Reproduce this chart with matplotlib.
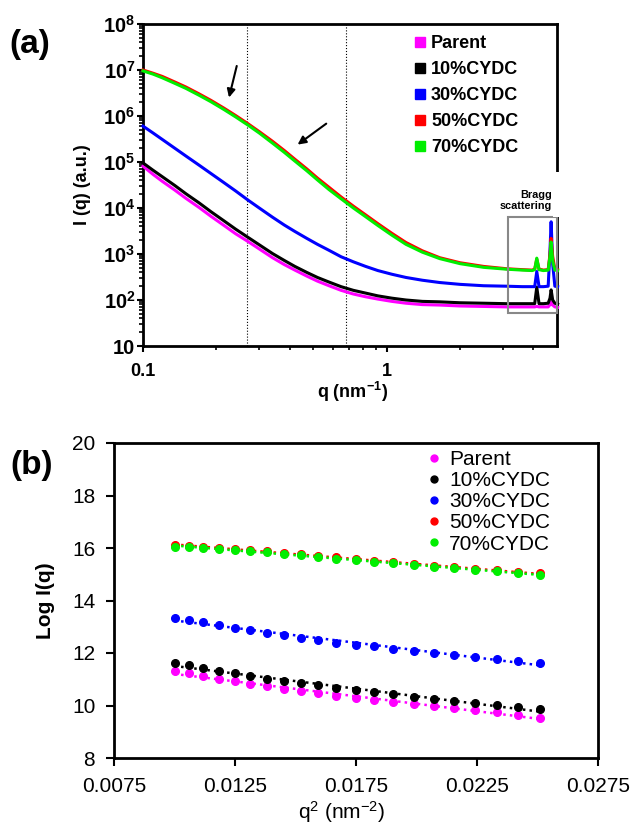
import numpy as np
import matplotlib
matplotlib.use('Agg')
import matplotlib.pyplot as plt
from matplotlib.lines import Line2D
from matplotlib.patches import Rectangle
from matplotlib.ticker import FixedLocator, LogLocator, NullFormatter, FuncFormatter

plt.rcParams['font.family'] = ['Liberation Sans', 'DejaVu Sans']
plt.rcParams['mathtext.fontset'] = 'custom'
plt.rcParams['mathtext.rm'] = 'Liberation Sans'
plt.rcParams['mathtext.bf'] = 'Liberation Sans:bold'
plt.rcParams['mathtext.it'] = 'Liberation Sans:italic'

# ---------------- panel (a) data: SAXS curves (log10 of I) ----------------
labels = ['Parent', '10%CYDC', '30%CYDC', '50%CYDC', '70%CYDC']
colors = ['#FF00FF', '#000000', '#0000FF', '#FF0000', '#00EE00']

q = [0.100, 0.110, 0.120, 0.135, 0.150, 0.170, 0.190, 0.215, 0.240, 0.270,
     0.300, 0.340, 0.380, 0.420, 0.470, 0.520, 0.580, 0.650, 0.730, 0.820,
     0.920, 1.05, 1.20, 1.40, 1.65, 2.00, 2.50, 3.10, 3.60, 3.95,
     4.05, 4.13, 4.22, 4.40, 4.60, 4.68, 4.73, 4.80, 4.90, 5.03]

logI_parent = [4.91, 4.73, 4.58, 4.39, 4.21, 4.01, 3.82, 3.62, 3.44, 3.27,
               3.11, 2.92, 2.77, 2.65, 2.52, 2.41, 2.31, 2.21, 2.13, 2.07,
               2.02, 1.97, 1.93, 1.90, 1.89, 1.87, 1.86, 1.85, 1.85, 1.85,
               1.85, 1.86, 1.85, 1.85, 1.85, 1.90, 1.96, 1.89, 1.85, 1.84]
logI_10 = [4.98, 4.82, 4.68, 4.49, 4.31, 4.11, 3.92, 3.72, 3.54, 3.36,
           3.20, 3.01, 2.86, 2.73, 2.60, 2.49, 2.39, 2.29, 2.21, 2.15,
           2.09, 2.04, 2.00, 1.97, 1.96, 1.94, 1.93, 1.92, 1.92, 1.92,
           1.92, 2.28, 1.92, 1.92, 1.93, 2.04, 2.22, 2.00, 1.93, 1.91]
logI_30 = [5.78, 5.63, 5.49, 5.30, 5.13, 4.93, 4.75, 4.55, 4.37, 4.17,
           4.00, 3.80, 3.63, 3.49, 3.34, 3.21, 3.08, 2.94, 2.83, 2.73,
           2.64, 2.56, 2.49, 2.43, 2.38, 2.34, 2.31, 2.30, 2.29, 2.29,
           2.29, 2.62, 2.29, 2.29, 2.30, 3.08, 3.70, 2.78, 2.30, 2.29]
logI_50 = [7.00, 6.93, 6.86, 6.74, 6.63, 6.48, 6.34, 6.17, 6.01, 5.83,
           5.66, 5.45, 5.25, 5.06, 4.85, 4.65, 4.45, 4.24, 4.04, 3.85,
           3.66, 3.45, 3.25, 3.07, 2.92, 2.81, 2.73, 2.68, 2.66, 2.65,
           2.67, 2.89, 2.67, 2.65, 2.66, 3.00, 3.34, 2.95, 2.67, 2.66]
logI_70 = [6.98, 6.91, 6.83, 6.71, 6.60, 6.45, 6.31, 6.14, 5.98, 5.80,
           5.63, 5.41, 5.21, 5.02, 4.81, 4.61, 4.40, 4.20, 4.00, 3.81,
           3.62, 3.41, 3.21, 3.04, 2.90, 2.79, 2.71, 2.67, 2.65, 2.64,
           2.66, 2.91, 2.66, 2.64, 2.65, 2.95, 3.26, 2.85, 2.65, 2.64]
curves = [logI_parent, logI_10, logI_30, logI_50, logI_70]

# ---------------- panel (b) data: Guinier plot ----------------
q2 = [0.01000, 0.01059, 0.01119, 0.01184, 0.01248, 0.01313, 0.01381, 0.01452,
      0.01523, 0.01595, 0.01669, 0.01748, 0.01825, 0.01904, 0.01988, 0.02071,
      0.02155, 0.02241, 0.02332, 0.02421, 0.02512]
ln_parent = [11.31, 11.22, 11.11, 11.01, 10.92, 10.83, 10.73, 10.63, 10.55, 10.48,
             10.38, 10.30, 10.22, 10.15, 10.06, 9.97, 9.89, 9.82, 9.74, 9.65, 9.54]
ln_10 = [11.62, 11.53, 11.42, 11.31, 11.22, 11.11, 11.02, 10.95, 10.86, 10.77,
         10.67, 10.58, 10.50, 10.43, 10.34, 10.25, 10.16, 10.08, 10.02, 9.94, 9.86]
ln_30 = [13.35, 13.27, 13.17, 13.06, 12.95, 12.87, 12.76, 12.67, 12.59, 12.51,
         12.40, 12.32, 12.26, 12.17, 12.09, 12.00, 11.94, 11.85, 11.77, 11.71, 11.63]
ln_50 = [16.10, 16.08, 16.05, 16.01, 15.97, 15.92, 15.87, 15.81, 15.76, 15.70,
         15.64, 15.58, 15.51, 15.45, 15.38, 15.32, 15.27, 15.21, 15.15, 15.08, 15.03]
ln_70 = [16.04, 16.03, 16.01, 15.98, 15.94, 15.89, 15.83, 15.77, 15.72, 15.66,
         15.60, 15.54, 15.47, 15.41, 15.34, 15.28, 15.23, 15.17, 15.11, 15.05, 14.99]
guinier = [ln_parent, ln_10, ln_30, ln_50, ln_70]

W, H = 635, 827
fig = plt.figure(figsize=(W / 100, H / 100), dpi=100)


def px_axes(x0, y0, x1, y1):
    return fig.add_axes([x0 / W, 1 - y1 / H, (x1 - x0) / W, (y1 - y0) / H])


# ================= (a) =================
ax1 = px_axes(143, 24, 557, 346)
for logI, c in zip(curves, colors):
    ax1.plot(q, np.power(10.0, logI), color=c, lw=2.2, solid_joinstyle='round',
             clip_on=False, zorder=3)

ax1.set_xscale('log')
ax1.set_yscale('log')
ax1.set_xlim(0.1, 5.0)
ax1.set_ylim(10, 1e8)

ax1.axvline(0.268, color='black', ls=':', lw=0.8, zorder=1)
ax1.axvline(0.678, color='black', ls=':', lw=0.8, zorder=1)

ax1.xaxis.set_major_locator(FixedLocator([0.1, 1]))
ax1.xaxis.set_major_formatter(FuncFormatter(lambda v, p: '0.1' if v < 0.5 else '1'))
ax1.xaxis.set_minor_locator(FixedLocator([0.2, 0.3, 0.4, 0.5, 0.6, 0.7, 0.8, 0.9, 2, 3, 4]))
ax1.xaxis.set_minor_formatter(NullFormatter())
ax1.yaxis.set_major_locator(LogLocator(base=10, numticks=10))
ax1.yaxis.set_major_formatter(FuncFormatter(
    lambda v, p: '10' if round(np.log10(v)) == 1 else r'$\mathbf{10^{%d}}$' % round(np.log10(v))))
ax1.yaxis.set_minor_locator(LogLocator(base=10, subs=np.arange(2, 10), numticks=20))
ax1.yaxis.set_minor_formatter(NullFormatter())
ax1.tick_params(axis='both', which='major', direction='out', length=4, width=1.5)
ax1.tick_params(axis='both', which='minor', direction='out', length=3, width=1.2)
ax1.tick_params(axis='x', which='major', pad=8, labelsize=13)
ax1.tick_params(axis='y', which='major', pad=1.5, labelsize=14.5)
for lab in ax1.get_xticklabels() + ax1.get_yticklabels():
    lab.set_fontweight('bold')
for sp in ax1.spines.values():
    sp.set_linewidth(2)

ax1.set_xlabel(r'q (nm$^{\mathbf{-1}}$)', fontsize=13, fontweight='bold')
ax1.xaxis.set_label_coords(0.507, -0.105)
ax1.set_ylabel('I (q) (a.u.)', fontsize=13, fontweight='bold')
ax1.yaxis.set_label_coords(-0.125, 0.5)

# Bragg region
ax1.add_patch(Rectangle((3.15, 52), 5.0 - 3.15, 6300 - 52, fill=False,
                        edgecolor='#888888', lw=1.5, zorder=4, clip_on=False))
ax1.add_patch(Rectangle((0.99, 0.401), 0.03, 0.139, transform=ax1.transAxes,
                        facecolor='white', edgecolor='none', zorder=5, clip_on=False))
ax1.text(4.77, 1.45e4, 'Bragg\nscattering', ha='right', va='center', ma='right',
         fontsize=7.8, fontweight='bold', linespacing=1.15, zorder=6)

# arrows
ax1.annotate('', xy=(0.224, 2.2e6), xytext=(0.244, 1.4e7),
             arrowprops=dict(arrowstyle='-|>', lw=1.5, color='black', mutation_scale=12))
ax1.annotate('', xy=(0.422, 2.2e5), xytext=(0.577, 7.4e5),
             arrowprops=dict(arrowstyle='-|>', lw=1.5, color='black', mutation_scale=12))

handles_a = [Line2D([], [], marker='s', ls='none', color=c, markersize=7.5) for c in colors]
ax1.legend(handles_a, labels, loc='upper left', bbox_to_anchor=(0.652, 0.965),
           frameon=False, borderpad=0, borderaxespad=0, handlelength=0.8,
           handletextpad=0.2, labelspacing=0.5,
           prop={'size': 13, 'weight': 'bold'})

fig.text(30 / W, 1 - 45 / H, '(a)', fontsize=24, fontweight='bold', ha='center', va='center')

# ================= (b) =================
ax2 = px_axes(114, 443, 598, 758)
for y, c in zip(guinier, colors):
    slope, icpt = np.polyfit(q2, y, 1)
    xs = np.array([q2[0], q2[-1]])
    ax2.plot(xs, slope * xs + icpt, ls=':', color=c, lw=1.8, zorder=2)
for y, c in zip(guinier, colors):
    ax2.plot(q2, y, 'o', color=c, markersize=5.5, zorder=3)

ax2.set_xlim(0.0075, 0.0275)
ax2.set_ylim(8, 20)
ax2.set_xticks([0.0075, 0.0125, 0.0175, 0.0225, 0.0275])
ax2.set_xticklabels(['0.0075', '0.0125', '0.0175', '0.0225', '0.0275'])
ax2.set_yticks([8, 10, 12, 14, 16, 18, 20])
ax2.tick_params(axis='both', direction='out', length=5.5, width=1.5, labelsize=15, pad=8)
for sp in ax2.spines.values():
    sp.set_linewidth(2)

ax2.set_xlabel(r'q$^{2}$ (nm$^{-2}$)', fontsize=15)
ax2.xaxis.set_label_coords(0.47, -0.13)
ax2.set_ylabel('Log I(q)', fontsize=15, fontweight='bold')
ax2.yaxis.set_label_coords(-0.122, 0.5)

handles_b = [Line2D([], [], marker='o', ls='none', color=c, markersize=5) for c in colors]
ax2.legend(handles_b, labels, loc='upper left', bbox_to_anchor=(0.649, 0.977),
           frameon=False, borderpad=0, borderaxespad=0, handlelength=0.6,
           handletextpad=0.4, labelspacing=0.1, prop={'size': 15})

fig.text(32 / W, 1 - 465 / H, '(b)', fontsize=24, fontweight='bold', ha='center', va='center')

fig.savefig('out.png', dpi=100)
